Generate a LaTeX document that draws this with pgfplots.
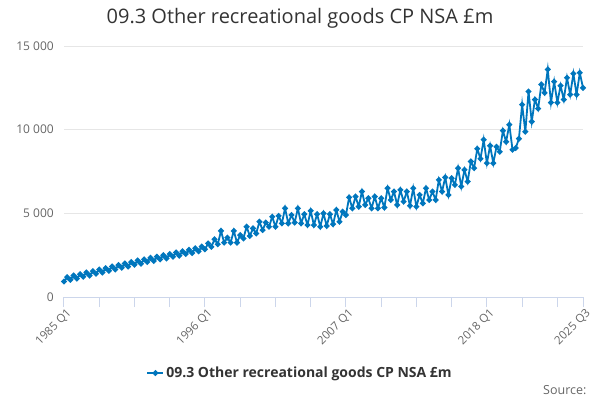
\documentclass[border=0pt]{standalone}
\usepackage{pgfplots}
\pgfplotsset{compat=1.18}
\usepackage{fontspec}
\setmainfont{Open Sans}
\definecolor{series}{HTML}{0076BD}
\definecolor{c333}{HTML}{333333}
\definecolor{c666}{HTML}{666666}
\definecolor{axisc}{HTML}{CCD6EB}
\definecolor{gridc}{HTML}{E6E6E6}
\pgfplotstableread{
q v
0 930
1 1185
2 1030
3 1285
4 1100
5 1365
6 1210
7 1465
8 1280
9 1545
10 1390
11 1645
12 1460
13 1725
14 1570
15 1825
16 1640
17 1905
18 1750
19 2005
20 1820
21 2085
22 1930
23 2185
24 1990
25 2250
26 2090
27 2340
28 2150
29 2410
30 2250
31 2500
32 2310
33 2570
34 2410
35 2660
36 2470
37 2730
38 2570
39 2820
40 2630
41 2910
42 2730
43 3010
44 2850
45 3200
46 3000
47 3450
48 3150
49 3950
50 3250
51 3550
52 3250
53 3950
54 3250
55 3700
56 3500
57 4200
58 3650
59 4100
60 3800
61 4500
62 4000
63 4450
64 4200
65 4800
66 4200
67 4850
68 4400
69 5300
70 4400
71 4900
72 4450
73 5300
74 4400
75 4950
76 4300
77 5150
78 4300
79 4950
80 4200
81 5000
82 4250
83 4950
84 4350
85 5200
86 4500
87 5100
88 4900
89 5950
90 5300
91 6000
92 5400
93 6300
94 5500
95 5900
96 5300
97 6000
98 5300
99 5900
100 5350
101 6500
102 5800
103 6300
104 5500
105 6400
106 5700
107 6300
108 5450
109 6500
110 5400
111 6100
112 5600
113 6500
114 5800
115 6300
116 5800
117 7000
118 6300
119 7150
120 6100
121 7100
122 6700
123 7700
124 6600
125 7600
126 6900
127 8100
128 7700
129 8860
130 8260
131 9400
132 8000
133 9040
134 8000
135 8980
136 8680
137 9940
138 9280
139 10300
140 8800
141 8900
142 9460
143 11500
144 9880
145 12280
146 10480
147 11800
148 11260
149 12700
150 12200
151 13600
152 11620
153 12870
154 11620
155 12630
156 11800
157 13100
158 12100
159 13350
160 12100
161 13400
162 12500
}\datatable
\begin{document}
\begin{tikzpicture}[x=1pt,y=1pt]
\path[use as bounding box] (0,0) rectangle (600,400);
\node[font=\fontsize{20}{23}\selectfont, text=c333] at (300,382) {09.3 Other recreational goods CP NSA £m};
\node[anchor=east, font=\fontsize{12.5}{14}\selectfont, text=c666] at (590,10) {Source:};
\begin{axis}[
  at={(64pt,103pt)}, anchor=south west,
  scale only axis, width=519pt, height=251pt,
  xmin=0, xmax=162, ymin=0, ymax=15000,
  scaled y ticks=false,
  axis lines*=left,
  y axis line style={draw=none},
  x axis line style={draw=axisc, line width=1pt},
  tick align=outside,
  xtick={0,11,22,33,44,55,66,77,88,99,110,121,132,143,154,162},
  xticklabels={1985 Q1,,,,1996 Q1,,,,2007 Q1,,,,2018 Q1,,,2025 Q3},
  xtick style={draw=axisc, line width=1pt},
  major tick length=10pt,
  ytick={0,5000,10000,15000},
  yticklabels={0,5 000,10 000,15 000},
  ytick style={draw=none},
  ymajorgrids, grid style={draw=gridc, line width=1pt},
  xticklabel style={rotate=45, anchor=east, inner sep=0pt, font=\fontsize{11.5}{13}\selectfont, text=c666, xshift=1pt, yshift=-7pt},
  yticklabel style={anchor=east, inner sep=0pt, font=\fontsize{12}{14}\selectfont, text=c666},
  clip=false,
  legend style={at={(0.455,-0.303)}, anchor=center, draw=none, fill=none, font=\bfseries\fontsize{14}{16}\selectfont, text=c333},
  legend image code/.code={\draw[mark repeat=2,mark phase=2,#1] plot coordinates {(0pt,0pt) (8pt,0pt) (16pt,0pt)};},
]
\addplot[color=series, line width=1.8pt, mark=*, mark size=1.9pt, mark options={solid, fill=series, draw=none}] table[x=q, y=v] {\datatable};
\addlegendentry{09.3 Other recreational goods CP NSA £m}
\end{axis}
\end{tikzpicture}
\end{document}
